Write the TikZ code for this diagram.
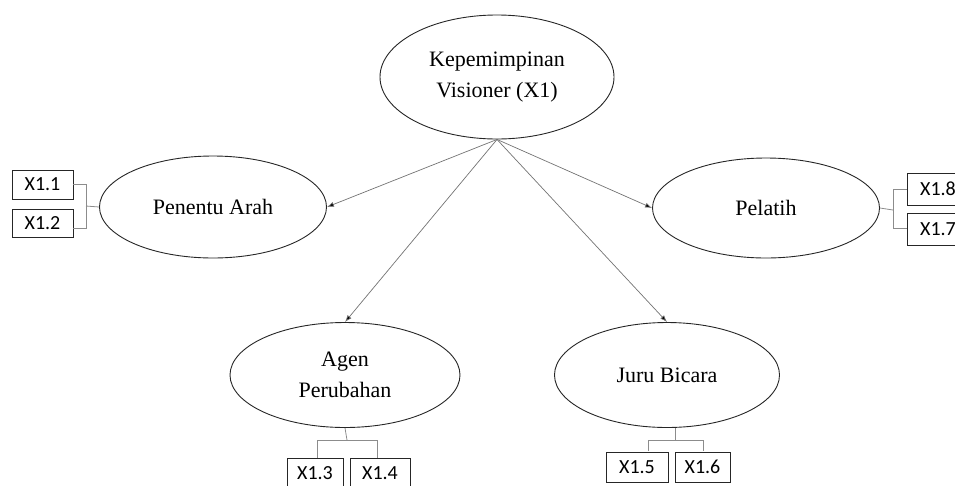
\documentclass[tikz,border=0pt]{standalone}
\usepackage{fontspec}
\setmainfont{Liberation Serif}
\newfontfamily\boxfont{Carlito}
\usetikzlibrary{shapes.geometric,arrows.meta}
\begin{document}
\begin{tikzpicture}[x=1pt,y=-1pt,
  latent/.style={ellipse,draw=black!85,line width=0.9pt,inner sep=0pt,align=center,
     font=\fontsize{22}{31}\selectfont},
  indic/.style={rectangle,draw=black!85,line width=0.8pt,inner sep=0pt,
     font=\boxfont\fontsize{20}{24}\selectfont},
  conn/.style={draw=black!55,line width=0.7pt,-{Latex[length=7pt,width=5pt,fill=black]}},
  brack/.style={draw=black!45,line width=0.8pt}]
\useasboundingbox (0,0) rectangle (955,485);

\node[latent,minimum width=234pt,minimum height=124pt] (top) at (497,77) {Kepemimpinan\\Visioner (X1)};
\node[latent,minimum width=227pt,minimum height=102pt] (pen) at (213,207) {Penentu Arah};
\node[latent,minimum width=227pt,minimum height=100pt] (pel) at (766,208) {Pelatih};
\node[latent,minimum width=230pt,minimum height=105pt] (agen) at (345,375) {Agen\\Perubahan};
\node[latent,minimum width=225pt,minimum height=105pt] (juru) at (667,375) {Juru Bicara};

\draw[conn] (top.south) -- (pen.east);
\draw[conn] (top.south) -- (pel.west);
\draw[conn] (top.south) -- (agen.north);
\draw[conn] (top.south) -- (juru.north);

% indicator boxes
\node[indic,minimum width=61pt,minimum height=29pt] (x11) at (42.5,184.5) {X1.1};
\node[indic,minimum width=61pt,minimum height=28pt] (x12) at (42.5,223.5) {X1.2};
\node[indic,minimum width=62pt,minimum height=32pt] (x18) at (938,189) {X1.8};
\node[indic,minimum width=62pt,minimum height=32pt] (x17) at (938,229) {X1.7};
\node[indic,minimum width=56pt,minimum height=30pt] (x13) at (315,473) {X1.3};
\node[indic,minimum width=60pt,minimum height=30pt] (x14) at (380,473) {X1.4};
\node[indic,minimum width=62pt,minimum height=30pt] (x15) at (637,467) {X1.5};
\node[indic,minimum width=55pt,minimum height=30pt] (x16) at (702.5,467) {X1.6};

% brackets
\coordinate (bl) at (86,206);
\draw[brack] (x11.east) -- (86,184.5) -- (86,228) -- (73,228);
\draw[brack] (bl) -- (pen.west);
\coordinate (br) at (893,210);
\draw[brack] (x18.west) -- (893,189) -- (893,228) -- (907,228);
\draw[brack] (br) -- (pel.east);
\coordinate (ba) at (347,440);
\draw[brack] (agen.south) -- (ba);
\draw[brack] (317,458) -- (317,440) -- (377,440) -- (377,458);
\coordinate (bj) at (675,440);
\draw[brack] (juru.south) ++(8,0) -- (bj);
\draw[brack] (648,451) -- (648,440) -- (703,440) -- (703,451);
\end{tikzpicture}
\end{document}
